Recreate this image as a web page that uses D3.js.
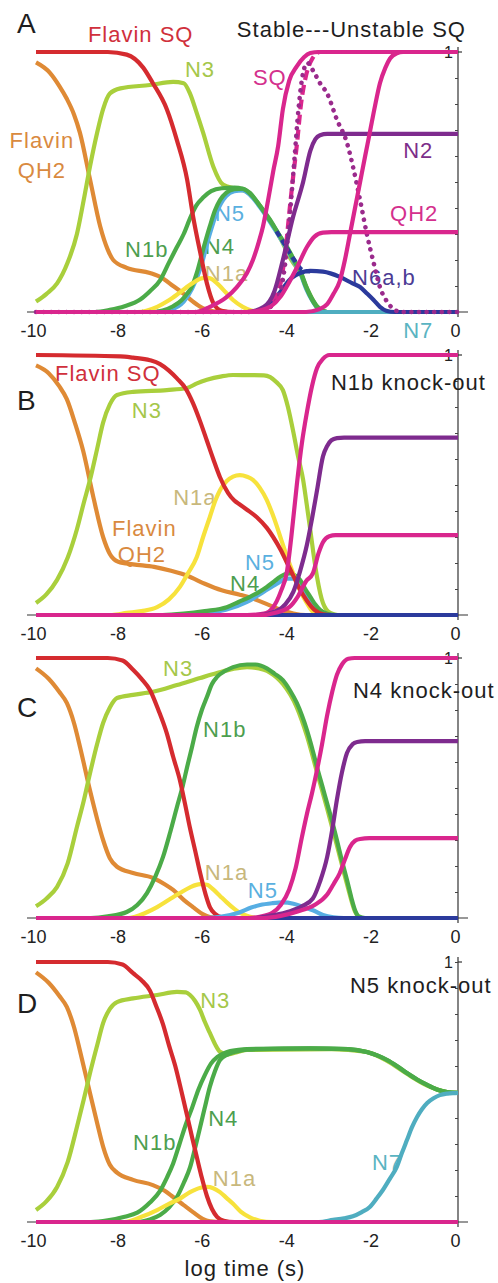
<!DOCTYPE html>
<html>
<head>
<meta charset="utf-8">
<script src="https://cdnjs.cloudflare.com/ajax/libs/d3/7.8.5/d3.min.js"></script>
<style>
  body { margin: 0; background: #fff; }
  svg text { font-family: "Liberation Sans", Arial, Helvetica, sans-serif; }
  .tick text { font-size: 18px; fill: #222; }
  .lbl { font-size: 22px; letter-spacing: 1px; }
  .title { font-size: 22px; letter-spacing: 1px; fill: #1e1e1e; }
  .letter { font-size: 28px; fill: #1e1e1e; }
  .one { font-size: 16px; fill: #222; }
</style>
</head>
<body>
<svg id="chart" width="498" height="1283"></svg>
<script>
// log time ticks and fraction ticks
const xTicks = [-10, -8, -6, -4, -2, 0]
const yTicks = [0, 0.1, 0.2, 0.3, 0.4, 0.5, 0.6, 0.7, 0.8, 0.9, 1]
const zeroLine = [[-10, 0], [0, 0]]

// ---- A: stable / unstable SQ
const aFlavinSQ = [[-10,1],[-8.3,1],[-7.85,0.99],[-7.46,0.94],[-7.23,0.88],[-6.9,0.78],[-6.66,0.66],[-6.42,0.51],[-6.28,0.37],[-6.11,0.23],[-5.95,0.11],[-5.8,0.035],[-5.6,0.005],[-5.3,0],[0,0]]
const aFlavinQH2 = [[-10,0.96],[-9.67,0.92],[-9.45,0.87],[-9.27,0.82],[-9.1,0.76],[-8.96,0.69],[-8.72,0.51],[-8.48,0.33],[-8.3,0.24],[-8.17,0.2],[-7.85,0.17],[-7.3,0.15],[-7,0.13],[-6.75,0.1],[-6.5,0.07],[-6.28,0.04],[-6.05,0.015],[-5.8,0.003],[-5.5,0],[0,0]]
const aN3 = [[-10,0.04],[-9.75,0.07],[-9.5,0.11],[-9.25,0.19],[-9.03,0.3],[-8.87,0.43],[-8.72,0.56],[-8.55,0.69],[-8.41,0.78],[-8.25,0.84],[-8,0.86],[-7.3,0.873],[-6.75,0.885],[-6.5,0.88],[-6.35,0.84],[-6.2,0.77],[-6.04,0.69],[-5.8,0.56],[-5.57,0.49],[-5.3,0.475],[-5.0,0.462],[-4.7,0.41],[-4.45,0.35],[-4.2,0.28],[-3.95,0.2],[-3.74,0.15],[-3.55,0.08],[-3.34,0.02],[-3.1,0],[0,0]]
const aN5 = [[-10,0],[-7.2,0],[-6.8,0.01],[-6.5,0.04],[-6.3,0.09],[-6.1,0.17],[-5.9,0.29],[-5.7,0.39],[-5.5,0.445],[-5.3,0.465],[-5.1,0.468],[-4.93,0.45],[-4.7,0.405],[-4.45,0.345],[-4.25,0.295],[-4.05,0.24],[-3.9,0.195],[-3.74,0.15],[-3.6,0.09],[-3.44,0.04],[-3.3,0.01],[-3.1,0],[0,0]]
const aN1b = [[-10,0],[-8.6,0],[-8.25,0.008],[-7.9,0.022],[-7.53,0.048],[-7.3,0.08],[-7.06,0.122],[-6.85,0.19],[-6.66,0.25],[-6.5,0.3],[-6.35,0.36],[-6.2,0.41],[-6.04,0.44],[-5.85,0.465],[-5.6,0.476],[-5.3,0.478],[-5.1,0.474],[-4.93,0.458],[-4.7,0.41],[-4.45,0.354],[-4.25,0.3],[-4.05,0.25],[-3.9,0.205],[-3.74,0.16],[-3.6,0.1],[-3.44,0.046],[-3.3,0.015],[-3.1,0],[0,0]]
const aN4 = [[-10,0],[-7.3,0],[-7.0,0.006],[-6.75,0.022],[-6.55,0.045],[-6.42,0.07],[-6.3,0.1],[-6.19,0.15],[-6.04,0.24],[-5.88,0.33],[-5.76,0.39],[-5.64,0.43],[-5.48,0.46],[-5.3,0.472],[-5.1,0.474],[-4.93,0.455],[-4.7,0.41],[-4.45,0.35],[-4.25,0.3],[-4.05,0.245],[-3.9,0.2],[-3.74,0.155],[-3.6,0.095],[-3.44,0.042],[-3.3,0.012],[-3.1,0],[0,0]]
const aN1a = [[-10,0],[-7.6,0],[-7.13,0.02],[-6.85,0.045],[-6.59,0.075],[-6.3,0.11],[-6.04,0.13],[-5.9,0.13],[-5.71,0.11],[-5.5,0.075],[-5.33,0.046],[-5.1,0.02],[-4.9,0.006],[-4.6,0],[0,0]]
const aN6 = [[-10,0],[-4.8,0],[-4.5,0.02],[-4.2,0.08],[-3.95,0.13],[-3.74,0.15],[-3.5,0.158],[-3.2,0.155],[-2.8,0.135],[-2.5,0.11],[-2.32,0.096],[-2.15,0.07],[-2.0,0.046],[-1.85,0.02],[-1.7,0.005],[-1.5,0],[0,0]]
const aN6dash = [[-4.3,0.31],[-4.1,0.258],[-3.9,0.205],[-3.67,0.16],[-3.5,0.156]]
const aSQ = [[-10,0],[-6.2,0],[-5.88,0.02],[-5.5,0.055],[-5.24,0.096],[-5.0,0.15],[-4.86,0.2],[-4.72,0.27],[-4.62,0.33],[-4.5,0.43],[-4.38,0.54],[-4.26,0.64],[-4.15,0.78],[-4.0,0.89],[-3.82,0.945],[-3.65,0.98],[-3.5,0.996],[-3.3,1],[0,1]]
const aSQdash = [[-10,0],[-4.9,0],[-4.6,0.01],[-4.4,0.04],[-4.22,0.1],[-4.1,0.22],[-3.98,0.41],[-3.9,0.53],[-3.82,0.64],[-3.72,0.8],[-3.6,0.91],[-3.45,0.975],[-3.27,1.0],[0,1]]
const aN2dot = [[-10,0],[-4.9,0],[-4.5,0.015],[-4.25,0.06],[-4.1,0.18],[-3.98,0.38],[-3.88,0.58],[-3.78,0.78],[-3.67,0.92],[-3.57,0.958],[-3.44,0.93],[-3.27,0.88],[-3.1,0.84],[-2.87,0.74],[-2.63,0.65],[-2.49,0.56],[-2.32,0.43],[-2.16,0.3],[-2.0,0.19],[-1.85,0.096],[-1.66,0.035],[-1.5,0.008],[-1.35,0],[0,0]]
const aN2 = [[-10,0],[-5.0,0],[-4.6,0.02],[-4.35,0.08],[-4.15,0.2],[-3.91,0.365],[-3.67,0.5],[-3.5,0.62],[-3.38,0.665],[-3.27,0.68],[-3.1,0.685],[0,0.685]]
const aQH2 = [[-10,0],[-5.0,0],[-4.7,0.006],[-4.45,0.02],[-4.2,0.06],[-4.05,0.1],[-3.82,0.17],[-3.58,0.25],[-3.4,0.29],[-3.2,0.305],[-3.0,0.307],[0,0.307]]
const aQH2late = [[-10,0],[-3.6,0],[-3.3,0.01],[-3.1,0.03],[-2.95,0.07],[-2.8,0.12],[-2.68,0.2],[-2.56,0.3],[-2.44,0.4],[-2.32,0.5],[-2.2,0.6],[-2.09,0.69],[-1.97,0.79],[-1.85,0.88],[-1.72,0.94],[-1.61,0.975],[-1.45,0.995],[-1.3,1],[0,1]]

// ---- B: N1b knock-out
const bFlavinSQ = [[-10,1],[-8,0.995],[-7.7,0.99],[-7.3,0.98],[-7.06,0.965],[-6.85,0.94],[-6.66,0.91],[-6.45,0.87],[-6.28,0.815],[-6.1,0.74],[-5.95,0.67],[-5.8,0.6],[-5.64,0.53],[-5.45,0.47],[-5.3,0.44],[-5.17,0.425],[-5.0,0.405],[-4.76,0.375],[-4.53,0.335],[-4.38,0.3],[-4.2,0.25],[-4.05,0.2],[-3.9,0.15],[-3.75,0.1],[-3.58,0.055],[-3.4,0.02],[-3.2,0.003],[-3.0,0],[0,0]]
const bFlavinQH2 = [[-10,0.96],[-9.7,0.93],[-9.45,0.88],[-9.27,0.83],[-9.08,0.74],[-8.88,0.63],[-8.65,0.46],[-8.41,0.3],[-8.25,0.235],[-8.05,0.205],[-7.7,0.195],[-7.2,0.185],[-6.8,0.17],[-6.4,0.15],[-6.0,0.12],[-5.6,0.095],[-5.17,0.078],[-4.8,0.06],[-4.5,0.04],[-4.2,0.02],[-3.9,0.006],[-3.6,0],[0,0]]
const bN3 = [[-10,0.046],[-9.75,0.08],[-9.5,0.135],[-9.25,0.22],[-9.03,0.33],[-8.87,0.43],[-8.72,0.52],[-8.55,0.64],[-8.41,0.74],[-8.25,0.81],[-8.08,0.846],[-7.7,0.858],[-6.9,0.865],[-6.42,0.873],[-6.2,0.89],[-5.95,0.905],[-5.6,0.918],[-5.33,0.923],[-4.6,0.922],[-4.45,0.915],[-4.3,0.895],[-4.15,0.865],[-4.03,0.8],[-3.91,0.71],[-3.79,0.61],[-3.67,0.52],[-3.58,0.42],[-3.5,0.327],[-3.42,0.23],[-3.34,0.146],[-3.2,0.046],[-3.03,0.008],[-2.85,0],[0,0]]
const bN5 = [[-10,0],[-6.5,0],[-5.5,0.02],[-5.0,0.05],[-4.6,0.09],[-4.3,0.12],[-4.05,0.14],[-3.9,0.14],[-3.75,0.12],[-3.6,0.085],[-3.45,0.05],[-3.3,0.02],[-3.1,0.004],[-2.9,0],[0,0]]
const bN4 = [[-10,0],[-7,0],[-6.5,0.005],[-6.0,0.015],[-5.48,0.03],[-5.2,0.05],[-4.93,0.07],[-4.7,0.09],[-4.53,0.108],[-4.35,0.13],[-4.22,0.146],[-4.1,0.157],[-3.98,0.16],[-3.86,0.152],[-3.74,0.135],[-3.62,0.1],[-3.5,0.07],[-3.38,0.04],[-3.27,0.02],[-3.1,0.005],[-2.9,0],[0,0]]
const bN1a = [[-10,0],[-8.2,0],[-7.85,0.008],[-7.5,0.015],[-7.13,0.03],[-6.85,0.06],[-6.59,0.108],[-6.4,0.16],[-6.19,0.223],[-6.04,0.3],[-5.88,0.377],[-5.75,0.44],[-5.64,0.48],[-5.48,0.515],[-5.33,0.532],[-5.17,0.538],[-5.0,0.532],[-4.86,0.52],[-4.7,0.49],[-4.53,0.442],[-4.4,0.39],[-4.29,0.34],[-4.17,0.28],[-4.05,0.223],[-3.93,0.17],[-3.82,0.123],[-3.7,0.08],[-3.58,0.046],[-3.44,0.012],[-3.3,0],[0,0]]
const bSQ = [[-10,0],[-5.0,0],[-4.6,0.005],[-4.38,0.03],[-4.2,0.09],[-4.05,0.17],[-3.95,0.3],[-3.82,0.5],[-3.7,0.66],[-3.58,0.78],[-3.46,0.88],[-3.34,0.95],[-3.2,0.985],[-3.05,1.0],[0,1]]
const bN2 = [[-10,0],[-4.8,0],[-4.4,0.01],[-4.1,0.04],[-3.9,0.09],[-3.74,0.17],[-3.58,0.27],[-3.46,0.37],[-3.34,0.48],[-3.2,0.61],[-3.1,0.65],[-3.0,0.672],[-2.87,0.68],[-2.7,0.682],[0,0.682]]
const bQH2 = [[-10,0],[-4.7,0],[-4.3,0.01],[-4.0,0.03],[-3.8,0.07],[-3.6,0.13],[-3.44,0.16],[-3.3,0.24],[-3.2,0.28],[-3.05,0.303],[-2.9,0.307],[0,0.307]]

// ---- C: N4 knock-out
const cFlavinSQ = [[-10,1],[-8.3,1],[-7.95,0.99],[-7.7,0.955],[-7.5,0.92],[-7.3,0.877],[-7.1,0.8],[-6.9,0.71],[-6.75,0.62],[-6.59,0.53],[-6.47,0.44],[-6.35,0.345],[-6.23,0.26],[-6.11,0.173],[-5.98,0.09],[-5.88,0.042],[-5.75,0.015],[-5.6,0.003],[-5.4,0],[0,0]]
const cFlavinQH2 = [[-10,0.96],[-9.7,0.92],[-9.45,0.87],[-9.27,0.827],[-9.1,0.75],[-8.96,0.66],[-8.72,0.49],[-8.55,0.38],[-8.41,0.3],[-8.25,0.23],[-8.08,0.197],[-7.7,0.173],[-7.23,0.154],[-6.95,0.13],[-6.75,0.108],[-6.5,0.07],[-6.28,0.042],[-6.05,0.015],[-5.88,0.004],[-5.6,0],[0,0]]
const cN3 = [[-10,0.045],[-9.75,0.075],[-9.5,0.12],[-9.25,0.21],[-9.03,0.35],[-8.87,0.45],[-8.72,0.557],[-8.55,0.67],[-8.41,0.75],[-8.25,0.81],[-8.08,0.846],[-7.7,0.858],[-7.23,0.87],[-6.66,0.896],[-6.11,0.923],[-5.71,0.942],[-5.33,0.958],[-5.0,0.965],[-4.6,0.955],[-4.3,0.925],[-4.15,0.9],[-3.82,0.81],[-3.58,0.7],[-3.34,0.56],[-3.1,0.42],[-2.87,0.28],[-2.63,0.13],[-2.44,0.025],[-2.3,0],[0,0]]
const cN1b = [[-10,0],[-8.7,0],[-8.3,0.006],[-7.85,0.023],[-7.6,0.05],[-7.37,0.096],[-7.17,0.16],[-6.99,0.235],[-6.82,0.33],[-6.66,0.427],[-6.52,0.51],[-6.42,0.58],[-6.3,0.66],[-6.19,0.735],[-6.07,0.8],[-5.95,0.85],[-5.83,0.9],[-5.71,0.927],[-5.5,0.952],[-5.33,0.965],[-5.0,0.975],[-4.8,0.975],[-4.53,0.96],[-4.35,0.94],[-4.15,0.915],[-3.98,0.875],[-3.82,0.827],[-3.7,0.78],[-3.58,0.723],[-3.46,0.655],[-3.34,0.58],[-3.22,0.51],[-3.1,0.44],[-2.98,0.37],[-2.87,0.3],[-2.75,0.22],[-2.63,0.146],[-2.53,0.08],[-2.44,0.03],[-2.35,0.006],[-2.2,0],[0,0]]
const cN1a = [[-10,0],[-7.8,0],[-7.4,0.02],[-7.13,0.042],[-6.85,0.07],[-6.59,0.096],[-6.35,0.118],[-6.11,0.13],[-5.95,0.128],[-5.8,0.11],[-5.64,0.085],[-5.48,0.06],[-5.3,0.035],[-5.17,0.02],[-4.95,0.006],[-4.7,0],[0,0]]
const cN5 = [[-10,0],[-6.0,0],[-5.6,0.005],[-5.2,0.02],[-4.9,0.04],[-4.69,0.05],[-4.4,0.057],[-4.15,0.06],[-3.9,0.055],[-3.65,0.042],[-3.44,0.03],[-3.2,0.012],[-2.95,0.003],[-2.7,0],[0,0]]
const cSQ = [[-10,0],[-5.0,0],[-4.7,0.005],[-4.4,0.02],[-4.2,0.05],[-4.0,0.11],[-3.85,0.19],[-3.7,0.31],[-3.58,0.4],[-3.46,0.48],[-3.34,0.57],[-3.22,0.67],[-3.1,0.78],[-2.98,0.87],[-2.87,0.935],[-2.75,0.975],[-2.6,0.997],[-2.45,1],[0,1]]
const cN2 = [[-10,0],[-4.8,0],[-4.4,0.01],[-4.0,0.025],[-3.7,0.045],[-3.44,0.075],[-3.27,0.14],[-3.1,0.235],[-2.98,0.34],[-2.87,0.454],[-2.75,0.56],[-2.63,0.635],[-2.5,0.668],[-2.39,0.677],[-2.2,0.68],[0,0.68]]
const cQH2 = [[-10,0],[-4.6,0],[-4.2,0.008],[-3.8,0.025],[-3.4,0.05],[-3.1,0.09],[-2.95,0.13],[-2.8,0.173],[-2.68,0.225],[-2.56,0.273],[-2.44,0.297],[-2.32,0.304],[-2.1,0.307],[0,0.307]]

// ---- D: N5 knock-out
const dFlavinSQ = [[-10,1],[-8.3,1],[-7.95,0.99],[-7.7,0.957],[-7.5,0.93],[-7.3,0.89],[-7.15,0.83],[-6.99,0.76],[-6.85,0.68],[-6.7,0.6],[-6.55,0.5],[-6.42,0.41],[-6.3,0.325],[-6.19,0.25],[-6.07,0.17],[-5.95,0.1],[-5.83,0.05],[-5.71,0.02],[-5.55,0.005],[-5.3,0],[0,0]]
const dFlavinQH2 = [[-10,0.96],[-9.7,0.92],[-9.45,0.87],[-9.27,0.827],[-9.1,0.75],[-8.96,0.66],[-8.72,0.495],[-8.55,0.38],[-8.41,0.29],[-8.25,0.22],[-8.08,0.19],[-7.7,0.162],[-7.23,0.142],[-6.95,0.12],[-6.75,0.096],[-6.5,0.065],[-6.28,0.038],[-6.05,0.012],[-5.88,0.003],[-5.6,0],[0,0]]
const dN3 = [[-10,0.046],[-9.75,0.08],[-9.5,0.135],[-9.25,0.23],[-9.03,0.365],[-8.87,0.47],[-8.72,0.573],[-8.55,0.68],[-8.41,0.765],[-8.25,0.82],[-8.08,0.846],[-7.7,0.86],[-7.13,0.873],[-6.66,0.885],[-6.45,0.883],[-6.35,0.873],[-6.23,0.85],[-6.11,0.815],[-6.0,0.77],[-5.88,0.727],[-5.76,0.685],[-5.64,0.655],[-5.45,0.645],[-5.2,0.655],[-5.0,0.662],[-3,0.665],[-2.2,0.655],[-1.68,0.62],[-1.21,0.57],[-0.73,0.525],[-0.26,0.5],[0,0.497]]
const dN1b = [[-10,0],[-8.7,0],[-8.3,0.006],[-7.9,0.02],[-7.6,0.036],[-7.3,0.075],[-7.06,0.12],[-6.9,0.17],[-6.75,0.225],[-6.6,0.3],[-6.45,0.375],[-6.3,0.44],[-6.15,0.51],[-6.0,0.565],[-5.85,0.61],[-5.7,0.635],[-5.5,0.652],[-5.2,0.662],[-5.0,0.665],[-3.5,0.668],[-2.6,0.665],[-2.16,0.654],[-1.9,0.64],[-1.68,0.623],[-1.45,0.6],[-1.21,0.573],[-0.97,0.548],[-0.73,0.527],[-0.5,0.51],[-0.26,0.5],[0,0.497]]
const dN4 = [[-10,0],[-7.6,0],[-7.3,0.01],[-7.06,0.027],[-6.85,0.055],[-6.66,0.096],[-6.5,0.15],[-6.35,0.21],[-6.23,0.285],[-6.11,0.365],[-6.0,0.44],[-5.88,0.52],[-5.76,0.58],[-5.64,0.623],[-5.45,0.645],[-5.24,0.656],[-5.0,0.663],[-3.5,0.668],[-2.6,0.665],[-2.16,0.654],[-1.9,0.64],[-1.68,0.623],[-1.45,0.6],[-1.21,0.573],[-0.97,0.548],[-0.73,0.527],[-0.5,0.51],[-0.26,0.5],[0,0.497]]
const dN1a = [[-10,0],[-7.9,0],[-7.5,0.02],[-7.13,0.046],[-6.85,0.07],[-6.59,0.09],[-6.35,0.115],[-6.1,0.132],[-5.95,0.135],[-5.8,0.13],[-5.64,0.115],[-5.48,0.092],[-5.33,0.07],[-5.15,0.04],[-4.93,0.018],[-4.7,0.005],[-4.4,0],[0,0]]
const dN7 = [[-10,0],[-3.3,0],[-2.96,0.008],[-2.7,0.014],[-2.49,0.022],[-2.28,0.038],[-2.09,0.058],[-1.93,0.09],[-1.78,0.123],[-1.62,0.165],[-1.45,0.212],[-1.33,0.265],[-1.21,0.315],[-1.09,0.365],[-0.97,0.404],[-0.85,0.435],[-0.73,0.458],[-0.58,0.476],[-0.43,0.488],[-0.25,0.494],[-0.12,0.496],[0,0.497]]

// line colours
const col = {
  red: '#d52b2f', orange: '#df8a35', n3: '#a9cf3c', green: '#4bab48', blue: '#57aee3',
  yellow: '#f7e23c', teal: '#4fadc0', navy: '#2b3a9c', magenta: '#d9268d', purple: '#7e2b8e', plum: '#9a2a8c'
}
// label colours
const txt = {
  red: '#d0303c', orange: '#d98a3f', n3: '#a5c74a', green: '#4d9e4f', blue: '#5ab0e0', n1a: '#c8b87c',
  magenta: '#d4308d', purple: '#7c2e8a', navy: '#4b3b94', teal: '#5ab4c2'
}

const panels = [
  {
    letter: 'A', letterAt: [-10.45, 1.073], base: 312,
    title: 'Stable---Unstable SQ', titleAt: [-5.24, 1.058],
    series: [
      {data: aFlavinQH2, color: col.orange}, {data: aN3, color: col.n3}, {data: aN5, color: col.blue},
      {data: aN1b, color: col.green}, {data: aN4, color: col.green}, {data: aN1a, color: col.yellow},
      {data: aFlavinSQ, color: col.red}, {data: zeroLine, color: col.teal}, {data: aN6, color: col.navy},
      {data: aN6dash, color: col.navy, dash: '6,4'},
      {data: aSQ, color: col.magenta}, {data: aSQdash, color: col.magenta, dash: '10,5'},
      {data: aN2dot, color: col.plum, dash: '0.1,7.5', cap: 'round'},
      {data: aN2, color: col.purple}, {data: aQH2, color: col.magenta}, {data: aQH2late, color: col.magenta}
    ],
    labels: [
      {text: 'Flavin SQ', at: [-8.77, 1.038], color: txt.red},
      {text: 'N3', at: [-6.47, 0.904], color: txt.n3},
      {text: 'Flavin', at: [-9.86, 0.631], color: txt.orange, anchor: 'middle'},
      {text: 'QH2', at: [-9.86, 0.515], color: txt.orange, anchor: 'middle'},
      {text: 'N1b', at: [-7.89, 0.212], color: txt.green},
      {text: 'N4', at: [-6.0, 0.222], color: txt.green},
      {text: 'N5', at: [-5.76, 0.35], color: txt.blue},
      {text: 'N1a', at: [-6.0, 0.118], color: txt.n1a},
      {text: 'SQ', at: [-4.86, 0.873], color: txt.magenta},
      {text: 'N2', at: [-1.3, 0.592], color: txt.purple},
      {text: 'QH2', at: [-1.61, 0.35], color: txt.magenta},
      {text: 'N6a,b', at: [-2.51, 0.104], color: txt.navy},
      {text: 'N7', at: [-1.3, -0.1], color: txt.teal}
    ]
  },
  {
    letter: 'B', letterAt: [-10.45, 0.788], base: 615,
    title: 'N1b knock-out', titleAt: [-3.01, 0.865],
    series: [
      {data: bFlavinQH2, color: col.orange}, {data: bN3, color: col.n3}, {data: bN5, color: col.blue},
      {data: bN4, color: col.green}, {data: bN1a, color: col.yellow}, {data: bFlavinSQ, color: col.red},
      {data: zeroLine, color: col.navy},
      {data: bSQ, color: col.magenta}, {data: bN2, color: col.purple}, {data: bQH2, color: col.magenta}
    ],
    labels: [
      {text: 'Flavin SQ', at: [-9.55, 0.9], color: txt.red},
      {text: 'N3', at: [-7.73, 0.758], color: txt.n3},
      {text: 'N1a', at: [-6.75, 0.423], color: txt.n1a},
      {text: 'Flavin', at: [-8.2, 0.304], color: txt.orange},
      {text: 'QH2', at: [-8.06, 0.205], color: txt.orange},
      {text: 'N5', at: [-5.05, 0.173], color: txt.blue},
      {text: 'N4', at: [-5.4, 0.092], color: txt.green}
    ]
  },
  {
    letter: 'C', letterAt: [-10.45, 0.773], base: 918,
    title: 'N4 knock-out', titleAt: [-2.49, 0.846],
    series: [
      {data: cFlavinQH2, color: col.orange}, {data: cN3, color: col.n3}, {data: cN1b, color: col.green},
      {data: cN1a, color: col.yellow}, {data: cFlavinSQ, color: col.red}, {data: cN5, color: col.blue},
      {data: zeroLine, color: col.navy},
      {data: cSQ, color: col.magenta}, {data: cN2, color: col.purple}, {data: cQH2, color: col.magenta}
    ],
    labels: [
      {text: 'N3', at: [-6.99, 0.931], color: txt.n3},
      {text: 'N1b', at: [-6.04, 0.696], color: txt.green},
      {text: 'N1a', at: [-6.0, 0.146], color: txt.n1a},
      {text: 'N5', at: [-4.98, 0.077], color: txt.blue}
    ]
  },
  {
    letter: 'D', letterAt: [-10.45, 0.804], base: 1222,
    title: 'N5 knock-out', titleAt: [-2.56, 0.881],
    series: [
      {data: dFlavinQH2, color: col.orange}, {data: dN3, color: col.n3}, {data: dN1b, color: col.green},
      {data: dN4, color: col.green}, {data: dN1a, color: col.yellow}, {data: dFlavinSQ, color: col.red},
      {data: dN7, color: col.teal}, {data: zeroLine, color: col.magenta}
    ],
    labels: [
      {text: 'N3', at: [-6.11, 0.823], color: txt.n3},
      {text: 'N4', at: [-5.92, 0.369], color: txt.green},
      {text: 'N1b', at: [-7.7, 0.277], color: txt.green},
      {text: 'N1a', at: [-5.81, 0.138], color: txt.n1a},
      {text: 'N7', at: [-2.04, 0.2], color: txt.teal}
    ]
  }
]

const svg = d3.select('#chart')
const panelHeight = 260
const x = d3.scaleLinear().domain([-10, 0]).range([36, 458])

panels.forEach(p => {
  const y = d3.scaleLinear().domain([0, 1]).range([p.base, p.base - panelHeight])
  const g = svg.append('g')

  // bottom axis line runs a bit past both ends
  g.append('line')
    .attr('x1', x(-10) - 9).attr('x2', x(0) + 10)
    .attr('y1', y(0)).attr('y2', y(0))
    .attr('stroke', '#333').attr('stroke-width', 1.2)

  g.append('g')
    .attr('transform', `translate(0, ${y(0)})`)
    .call(d3.axisBottom(x).tickValues(xTicks).tickSize(0).tickPadding(12).tickFormat(d => String(d)))
    .call(a => a.select('.domain').remove())
    .call(a => a.selectAll('text').attr('dx', -3))

  // right hand axis with ticks pointing inward
  g.append('line')
    .attr('x1', x(0)).attr('x2', x(0))
    .attr('y1', y(0) + 5).attr('y2', y(1) - 5)
    .attr('stroke', '#333').attr('stroke-width', 1.2)
  g.append('g')
    .attr('transform', `translate(${x(0)}, 0)`)
    .call(d3.axisLeft(y).tickValues(yTicks).tickSize(3).tickSizeOuter(0).tickFormat(''))
    .call(a => a.select('.domain').remove())
    .call(a => a.selectAll('line').attr('stroke', '#444'))
  g.append('line')
    .attr('x1', x(0)).attr('x2', x(0) + 4)
    .attr('y1', y(1)).attr('y2', y(1))
    .attr('stroke', '#333').attr('stroke-width', 1.2)
  g.append('text').attr('class', 'one')
    .attr('x', x(0) - 5).attr('y', y(1)).attr('dy', '0.36em')
    .attr('text-anchor', 'end').text('1')

  g.selectAll('.lbl')
    .data(p.labels)
    .enter()
    .append('text')
    .attr('class', 'lbl')
    .attr('x', d => x(d.at[0]))
    .attr('y', d => y(d.at[1]))
    .attr('text-anchor', d => d.anchor || 'start')
    .attr('fill', d => d.color)
    .text(d => d.text)

  const line = d3.line()
    .x(d => x(d[0]))
    .y(d => y(d[1]))
    .curve(d3.curveMonotoneX)

  g.selectAll('.curve')
    .data(p.series)
    .enter()
    .append('path')
    .attr('class', 'curve')
    .attr('d', d => line(d.data))
    .attr('fill', 'none')
    .attr('stroke', d => d.color)
    .attr('stroke-width', d => d.cap ? 4.6 : 4.2)
    .attr('stroke-dasharray', d => d.dash || null)
    .attr('stroke-linecap', d => d.cap || 'butt')
    .attr('stroke-linejoin', 'round')

  g.append('text').attr('class', 'title')
    .attr('x', x(p.titleAt[0])).attr('y', y(p.titleAt[1]))
    .text(p.title)

  g.append('text').attr('class', 'letter')
    .attr('x', x(p.letterAt[0])).attr('y', y(p.letterAt[1]))
    .text(p.letter)
})

svg.append('text')
  .attr('class', 'lbl')
  .attr('x', x(-5) - 2)
  .attr('y', 1276)
  .attr('text-anchor', 'middle')
  .attr('fill', '#1e1e1e')
  .text('log time (s)')
</script>
</body>
</html>
